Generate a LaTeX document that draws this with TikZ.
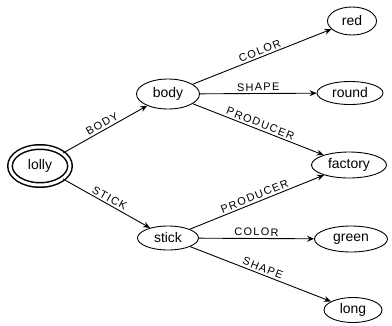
\documentclass[tikz,border=0pt]{standalone}
\usepackage{fontspec}
\setmainfont{Liberation Sans}
\usetikzlibrary{shapes.geometric,arrows.meta}
\begin{document}
\begin{tikzpicture}[x=1bp, y=-1bp]
      \tikzstyle{STY1} = [draw, ellipse, line width=0.9pt, inner sep=0pt, font=\fontsize{14}{16}\selectfont]
      \tikzstyle{STY2} = [-{Stealth[length=7bp, width=6bp, inset=2.5bp]}, line width=0.9pt]
      \tikzstyle{STY3} = [sloped, above, midway, inner sep=2pt, font=\fontsize{11}{12}\selectfont\addfontfeature{LetterSpace=12}]

      \useasboundingbox (0,0) rectangle (392,326);

      %%%%% VERTEX

      \node[STY1, double, double distance=3bp, line width=1.5bp, minimum width=60bp, minimum height=38bp](v0) at (40, 166) {lolly};

      \node[STY1, minimum width=63bp, minimum height=30bp](v1) at (168, 94) {body};
      \node[STY1, minimum width=61bp, minimum height=24bp](v2) at (168, 238) {stick};

      \node[STY1, minimum width=49bp, minimum height=28bp](v3) at (352, 21) {red};
      \node[STY1, minimum width=66bp, minimum height=23bp](v4) at (350, 93) {round};
      \node[STY1, minimum width=75bp, minimum height=26bp](v5) at (349, 165) {factory};
      \node[STY1, minimum width=73bp, minimum height=26bp](v6) at (351, 239) {green};
      \node[STY1, minimum width=58bp, minimum height=25bp](v7) at (353, 310) {long};

      %%%%% EDGES
      \draw[STY2]  (v0) edge node[STY3] {BODY} (v1);
      \draw[STY2]  (v0) edge node[STY3] {STICK} (v2);

      \draw[STY2]  (v1) edge node[STY3] {COLOR} (v3);
      \draw[STY2]  (v1) edge node[STY3] {SHAPE} (v4);
      \draw[STY2]  (v1) edge node[STY3] {PRODUCER} (v5);

      \draw[STY2]  (v2) edge node[STY3] {PRODUCER} (v5);
      \draw[STY2]  (v2) edge node[STY3] {COLOR} (v6);
      \draw[STY2]  (v2) edge node[STY3] {SHAPE} (v7);
    \end{tikzpicture}
\end{document}
